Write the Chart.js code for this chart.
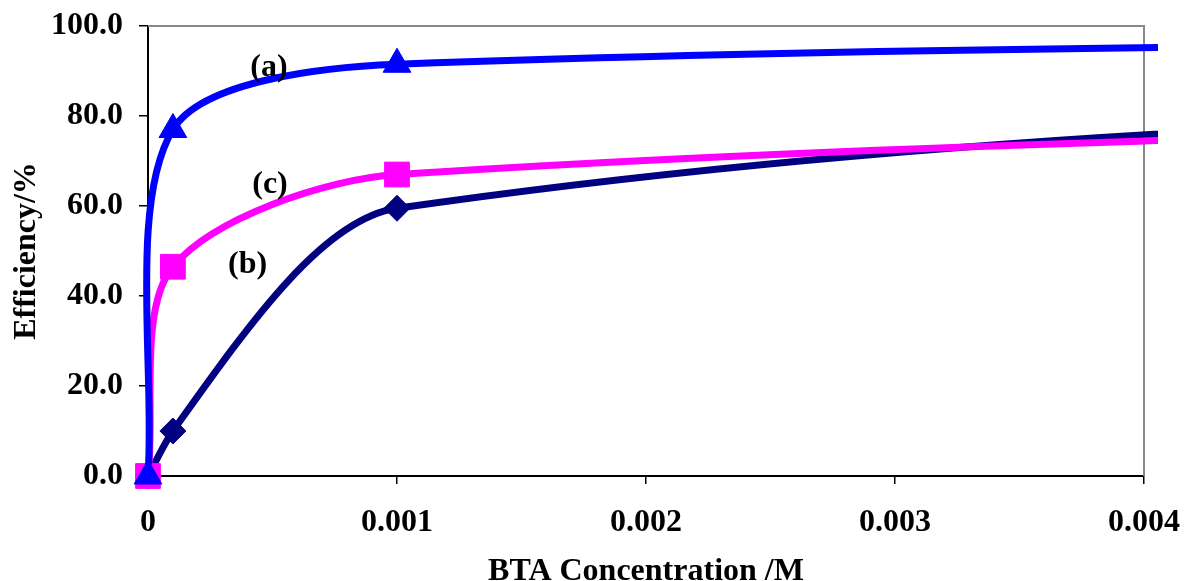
<!doctype html>
<html lang="en">
<head>
    <meta charset="utf-8">
    <title>BTA Efficiency</title>
    <script src="https://cdn.jsdelivr.net/npm/chart.js"></script>
    <style>
        html, body { margin: 0; padding: 0; background: #fff; }
    </style>
</head>
<body>
    <canvas id="myChart" width="1185" height="581"></canvas>
    <script>
        // BTA concentration /M  (last point lies past the axis end)
        const concentrations = [0, 0.0001, 0.001, 0.01];
        // efficiency /% for each curve
        const effA = [0, 77, 91.5, 97.5];
        const effB = [0, 10, 59.5, 83.5];
        const effC = [0, 46.5, 67, 82.5];
        // tick labels
        const xTicks = [0, 0.001, 0.002, 0.003, 0.004];
        const yTicks = [0, 20, 40, 60, 80, 100];
        // curve names written on the plot
        const curveNames = ['(a)', '(b)', '(c)'];
        const nameX = [0.000486, 0.0004, 0.00049];
        const nameY = [90.7, 46.9, 64.7];

        const serif = "'Liberation Serif', 'Times New Roman', serif";
        const bigFont = { family: serif, size: 32, weight: 'bold' };

        function toPoints(ys) {
            return concentrations.map(function (c, i) { return { x: c, y: ys[i] }; });
        }

        // gray plot frame on top and right side
        const frame = {
            id: 'frame',
            beforeDatasetsDraw(chart) {
                const a = chart.chartArea;
                const ctx = chart.ctx;
                ctx.save();
                ctx.strokeStyle = '#888888';
                ctx.lineWidth = 2;
                ctx.beginPath();
                ctx.moveTo(a.left, a.top);
                ctx.lineTo(a.right, a.top);
                ctx.lineTo(a.right, a.bottom);
                ctx.stroke();
                ctx.restore();
            }
        };

        // (a) (b) (c) labels
        const names = {
            id: 'names',
            afterDatasetsDraw(chart) {
                const ctx = chart.ctx;
                ctx.save();
                ctx.font = 'bold 32px ' + serif;
                ctx.fillStyle = '#000';
                ctx.textAlign = 'center';
                ctx.textBaseline = 'middle';
                for (let i = 0; i < curveNames.length; i++) {
                    ctx.fillText(curveNames[i],
                        chart.scales.x.getPixelForValue(nameX[i]),
                        chart.scales.y.getPixelForValue(nameY[i]));
                }
                ctx.restore();
            }
        };

        const clipBox = { left: 20, top: 20, right: 14, bottom: 20 };

        const data = {
            datasets: [{
                label: '(a)',
                data: toPoints(effA),
                borderColor: '#0000ff',
                backgroundColor: '#0000ff',
                borderWidth: 7,
                tension: 0.3,
                pointStyle: 'triangle',
                pointRadius: 16,
                pointBorderWidth: 1,
                clip: clipBox,
                order: 1
            }, {
                label: '(b)',
                data: toPoints(effB),
                borderColor: '#000080',
                backgroundColor: '#000080',
                borderWidth: 7,
                cubicInterpolationMode: 'monotone',
                pointStyle: 'rectRot',
                pointRadius: 13,
                pointBorderWidth: 1,
                clip: clipBox,
                order: 3
            }, {
                label: '(c)',
                data: toPoints(effC),
                borderColor: '#ff00ff',
                backgroundColor: '#ff00ff',
                borderWidth: 7,
                tension: 0.3,
                pointStyle: 'rect',
                pointRadius: 17.5,
                pointBorderWidth: 1,
                clip: clipBox,
                order: 2
            }]
        };

        const config = {
            type: 'line',
            data: data,
            plugins: [frame, names],
            options: {
                responsive: false,
                animation: false,
                layout: { padding: { top: 26, right: 41, left: 0, bottom: 0 } },
                elements: { line: { capBezierPoints: false } },
                plugins: {
                    legend: { display: false },
                    tooltip: { enabled: false }
                },
                scales: {
                    x: {
                        type: 'linear',
                        min: 0,
                        max: 0.004,
                        afterBuildTicks: function (s) { s.ticks = xTicks.map(function (v) { return { value: v }; }); },
                        afterFit: function (s) {
                            s.height = 105;
                            s.paddingLeft = 0;
                            s.paddingRight = 0;
                        },
                        border: { color: '#000', width: 2 },
                        grid: { drawOnChartArea: false, drawTicks: true, tickLength: 8, color: '#000', lineWidth: 1.5 },
                        ticks: {
                            font: bigFont,
                            color: '#000',
                            padding: 20,
                            maxRotation: 0,
                            callback: function (v) { return v === 0 ? '0' : v.toFixed(3); }
                        },
                        title: {
                            display: true,
                            text: 'BTA Concentration /M',
                            font: { family: serif, size: 32, weight: 'bold', lineHeight: 0.6 },
                            color: '#000',
                            padding: 0
                        }
                    },
                    y: {
                        min: 0,
                        max: 100,
                        afterBuildTicks: function (s) { s.ticks = yTicks.map(function (v) { return { value: v }; }); },
                        afterFit: function (s) {
                            s.width = 148;
                            s.paddingTop = 0;
                            s.paddingBottom = 0;
                        },
                        border: { color: '#000', width: 2 },
                        grid: { drawOnChartArea: false, drawTicks: true, tickLength: 9, color: '#000', lineWidth: 1.5 },
                        ticks: {
                            font: bigFont,
                            color: '#000',
                            padding: 16,
                            callback: function (v) { return v.toFixed(1); }
                        },
                        title: {
                            display: true,
                            text: 'Efficiency/%',
                            font: bigFont,
                            color: '#000',
                            padding: { top: 8, bottom: 0 }
                        }
                    }
                }
            }
        };

        const myChart = new Chart(document.getElementById('myChart'), config);
    </script>
</body>
</html>
